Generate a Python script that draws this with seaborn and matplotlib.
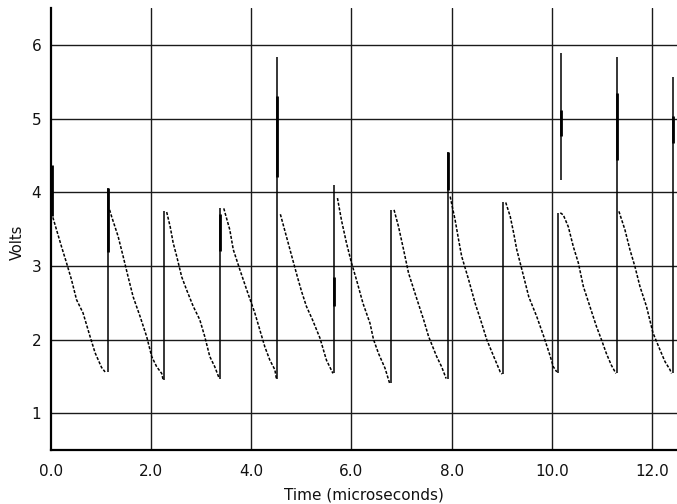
import matplotlib
matplotlib.use("Agg")
import matplotlib.pyplot as plt
import seaborn as sns
import pandas as pd
from matplotlib.ticker import MultipleLocator

# ---------------- data ----------------
# decaying (sawtooth) segments: time in microseconds, volts, cycle id
decay_time = [
    0.01, 0.11, 0.21, 0.31, 0.41, 0.51, 0.64, 0.78, 0.88, 1.01, 1.08,
    1.17, 1.21, 1.34, 1.44, 1.54, 1.64, 1.78, 1.91, 2.01, 2.11, 2.21, 2.24,
    2.31, 2.38, 2.44, 2.51, 2.61, 2.71, 2.84, 2.97, 3.07, 3.17, 3.27, 3.36,
    3.45, 3.57, 3.64, 3.77, 3.91, 4.07, 4.17, 4.27, 4.37, 4.47, 4.50,
    4.58, 4.70, 4.82, 4.92, 5.00, 5.10, 5.22, 5.37, 5.50, 5.63,
    5.72, 5.80, 5.90, 6.00, 6.10, 6.23, 6.37, 6.44, 6.54, 6.67, 6.76,
    6.85, 6.94, 7.04, 7.14, 7.31, 7.44, 7.54, 7.70, 7.80, 7.89,
    7.97, 8.07, 8.14, 8.20, 8.34, 8.47, 8.60, 8.70, 8.84, 8.97, 9.01,
    9.08, 9.17, 9.24, 9.30, 9.44, 9.54, 9.70, 9.84, 9.97, 10.03, 10.10,
    10.17, 10.23, 10.33, 10.43, 10.53, 10.63, 10.76, 10.89, 10.99, 11.09, 11.19, 11.28,
    11.34, 11.46, 11.56, 11.66, 11.76, 11.89, 12.02, 12.16, 12.26, 12.36, 12.39,
]
decay_volts = [
    3.72, 3.49, 3.26, 3.04, 2.81, 2.54, 2.36, 2.04, 1.82, 1.62, 1.56,
    3.76, 3.67, 3.40, 3.13, 2.85, 2.58, 2.31, 2.04, 1.77, 1.63, 1.54, 1.45,
    3.73, 3.53, 3.31, 3.13, 2.85, 2.67, 2.45, 2.27, 2.04, 1.77, 1.63, 1.47,
    3.78, 3.49, 3.22, 2.95, 2.67, 2.36, 2.13, 1.90, 1.72, 1.59, 1.47,
    3.70, 3.40, 3.10, 2.85, 2.66, 2.45, 2.27, 2.02, 1.72, 1.54,
    3.92, 3.62, 3.31, 3.04, 2.81, 2.49, 2.22, 2.00, 1.81, 1.61, 1.41,
    3.76, 3.53, 3.22, 2.90, 2.54, 2.27, 2.04, 1.77, 1.63, 1.47,
    3.94, 3.62, 3.35, 3.13, 2.81, 2.49, 2.22, 2.00, 1.77, 1.56, 1.53,
    3.86, 3.67, 3.44, 3.22, 2.85, 2.58, 2.31, 2.04, 1.77, 1.63, 1.56,
    3.72, 3.69, 3.53, 3.26, 3.04, 2.72, 2.45, 2.18, 2.00, 1.81, 1.65, 1.54,
    3.74, 3.49, 3.22, 2.99, 2.72, 2.45, 2.09, 1.86, 1.70, 1.59, 1.54,
]
decay_cycle = ([1] * 11 + [2] * 12 + [3] * 12 + [4] * 11 + [5] * 10 + [6] * 11
               + [7] * 10 + [8] * 11 + [9] * 11 + [10] * 12 + [11] * 11)

# vertical jumps (spikes)
spike_time = [0.0, 1.14, 2.25, 3.38, 4.52, 5.66, 6.79, 7.92, 9.03, 10.13, 10.19, 11.30, 12.42]
spike_low  = [3.60, 1.56, 1.45, 1.47, 1.47, 1.54, 1.41, 1.47, 1.53, 1.54, 4.17, 1.54, 1.54]
spike_high = [5.00, 4.06, 3.75, 3.78, 5.84, 4.10, 3.76, 4.55, 3.86, 3.72, 5.89, 5.84, 5.57]
# heavier parts of the spikes
thick_time = [0.01, 1.14, 3.38, 4.52, 5.66, 7.92, 10.19, 11.30, 12.42]
thick_low  = [3.67, 3.19, 3.20, 4.21, 2.45, 4.03, 4.76, 4.44, 4.67]
thick_high = [4.37, 4.06, 3.70, 5.30, 2.85, 4.55, 5.12, 5.35, 5.03]

x_major = [0.0, 2.0, 4.0, 6.0, 8.0, 10.0, 12.0]
x_labels = ["0.0", "2.0", "4.0", "6.0", "8.0", "10.0", "12.0"]
y_major = [1, 2, 3, 4, 5, 6]
y_labels = ["1", "2", "3", "4", "5", "6"]

# ---------------- drawing ----------------
sns.set_style("white")
plt.rcParams["font.family"] = ["DejaVu Sans"]

fig = plt.figure(figsize=(6.77, 5.04), dpi=100)
ax = fig.add_axes([51 / 677, 1 - 450 / 504, 1 - 51 / 677, (450 - 8) / 504])

ax.set_xlim(0, 12.5)
ax.set_ylim(0.5, 6.5)

# grid
for x in x_major[1:]:
    ax.axvline(x, color="#1a1a1a", lw=1.0, zorder=1)
for y in y_major:
    ax.axhline(y, color="#1a1a1a", lw=1.0, zorder=1)

df = pd.DataFrame({"t": decay_time, "v": decay_volts, "cycle": decay_cycle})
sns.lineplot(data=df, x="t", y="v", units="cycle", estimator=None, color="black",
             lw=1.1, linestyle=(0, (2.0, 1.1)), ax=ax, zorder=3, legend=False)

ax.vlines(spike_time, spike_low, spike_high, color="black", lw=1.1, zorder=3)
ax.vlines(thick_time, thick_low, thick_high, color="black", lw=2.0, zorder=3)

# axes styling
for s in ["top", "right"]:
    ax.spines[s].set_visible(False)
for s in ["left", "bottom"]:
    ax.spines[s].set_color("black")
    ax.spines[s].set_linewidth(1.6)

ax.set_xticks(x_major)
ax.set_xticklabels(x_labels)
ax.set_yticks(y_major)
ax.set_yticklabels(y_labels)
ax.xaxis.set_minor_locator(MultipleLocator(1.0))
ax.yaxis.set_minor_locator(MultipleLocator(0.5))
ax.tick_params(axis="both", which="major", direction="in", length=6, width=1.4,
               color="black", labelsize=11, labelcolor="#111111")
ax.tick_params(axis="both", which="minor", direction="in", length=4, width=1.2, color="black")
ax.tick_params(axis="x", which="major", pad=10)
ax.tick_params(axis="y", which="major", pad=7)

ax.set_xlabel("Time (microseconds)", fontsize=11, color="#111111", labelpad=6)
ax.set_ylabel("Volts", fontsize=10.5, color="#111111")
ax.yaxis.set_label_coords(-0.042, 0.47)

fig.savefig("out.png", dpi=100)
